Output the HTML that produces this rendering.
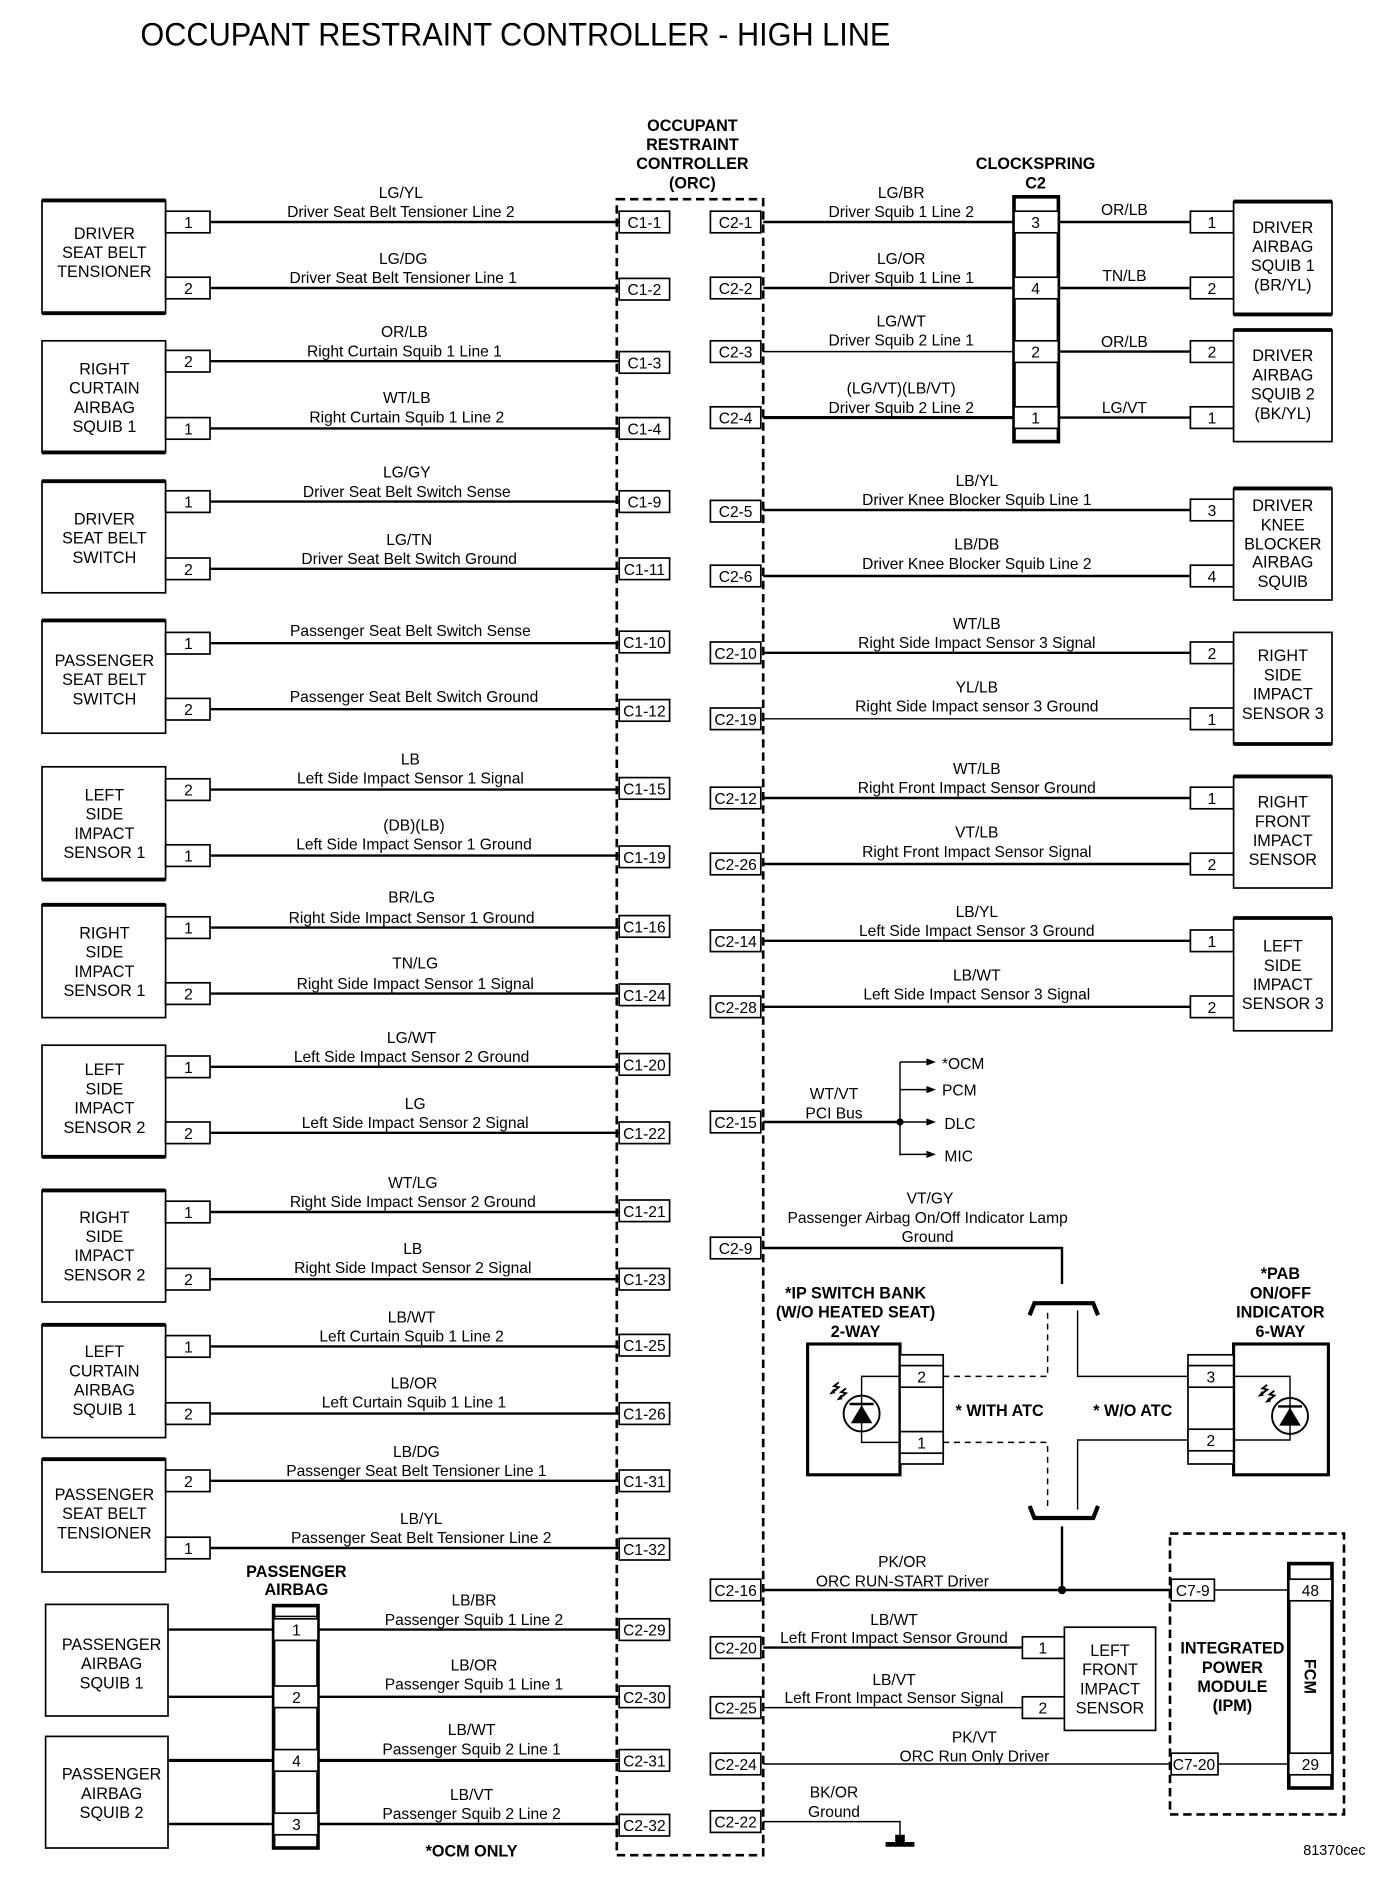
<!DOCTYPE html>
<html><head><meta charset="utf-8"><style>
html,body{margin:0;padding:0;background:#fff}
svg{display:block}
text{font-family:"Liberation Sans",sans-serif;fill:#000}
.t{font-size:13px;text-anchor:middle}
.c{font-size:13.5px;text-anchor:middle}
.b{font-size:13.5px;text-anchor:middle;font-weight:bold}
.p{font-size:13px;text-anchor:middle}
.w{stroke:#000;stroke-width:2;fill:none}
.tw{stroke:#000;stroke-width:1.2;fill:none}
.bx{stroke:#000;stroke-width:1.4;fill:#fff}
.th{stroke:#000;stroke-width:3.2}
.d{stroke:#000;stroke-width:2.2;fill:none;stroke-dasharray:7,4}
.dl{stroke:#000;stroke-width:1.2;fill:none;stroke-dasharray:5,4}
</style></head><body>
<svg width="1392" height="1886" viewBox="0 0 1160 1571.67" xmlns="http://www.w3.org/2000/svg">
<defs>
<g id="bolt"><polyline points="0,0 -4,3 0,4 -5,8" class="tw" style="stroke-width:1.6"/><polygon points="-8,10 -4,5 -3,9" fill="#000"/></g>
</defs>
<text x="117" y="38" style="font-size:27px" textLength="625" lengthAdjust="spacingAndGlyphs">OCCUPANT RESTRAINT CONTROLLER - HIGH LINE</text>

<text class="b" x="577" y="109">OCCUPANT</text>
<text class="b" x="577" y="125">RESTRAINT</text>
<text class="b" x="577" y="141">CONTROLLER</text>
<text class="b" x="577" y="157">(ORC)</text>
<rect x="514" y="166" width="122" height="1380" class="d"/>
<text class="b" x="863" y="141">CLOCKSPRING</text>
<text class="b" x="863" y="157">C2</text>

<g>
<rect x="35" y="167" width="103" height="94" class="bx"/><line x1="35" y1="167" x2="138" y2="167" class="th"/><line x1="35" y1="261" x2="138" y2="261" class="th"/>
<text class="c" x="87" y="199">DRIVER</text><text class="c" x="87" y="215">SEAT BELT</text><text class="c" x="87" y="231">TENSIONER</text>
<rect x="35" y="284" width="103" height="93" class="bx"/><line x1="35" y1="377" x2="138" y2="377" class="th"/>
<text class="c" x="87" y="312">RIGHT</text><text class="c" x="87" y="328">CURTAIN</text><text class="c" x="87" y="344">AIRBAG</text><text class="c" x="87" y="360">SQUIB 1</text>
<rect x="35" y="401" width="103" height="93" class="bx"/><line x1="35" y1="401" x2="138" y2="401" class="th"/>
<text class="c" x="87" y="437">DRIVER</text><text class="c" x="87" y="453">SEAT BELT</text><text class="c" x="87" y="469">SWITCH</text>
<rect x="35" y="517" width="103" height="94" class="bx"/><line x1="35" y1="517" x2="138" y2="517" class="th"/>
<text class="c" x="87" y="555">PASSENGER</text><text class="c" x="87" y="571">SEAT BELT</text><text class="c" x="87" y="587">SWITCH</text>
<rect x="35" y="639" width="103" height="94" class="bx"/><line x1="35" y1="733" x2="138" y2="733" class="th"/>
<text class="c" x="87" y="667">LEFT</text><text class="c" x="87" y="683">SIDE</text><text class="c" x="87" y="699">IMPACT</text><text class="c" x="87" y="715">SENSOR 1</text>
<rect x="35" y="754" width="103" height="94" class="bx"/><line x1="35" y1="754" x2="138" y2="754" class="th"/>
<text class="c" x="87" y="782">RIGHT</text><text class="c" x="87" y="798">SIDE</text><text class="c" x="87" y="814">IMPACT</text><text class="c" x="87" y="830">SENSOR 1</text>
<rect x="35" y="871" width="103" height="93" class="bx"/><line x1="35" y1="964" x2="138" y2="964" class="th"/>
<text class="c" x="87" y="896">LEFT</text><text class="c" x="87" y="912">SIDE</text><text class="c" x="87" y="928">IMPACT</text><text class="c" x="87" y="944">SENSOR 2</text>
<rect x="35" y="992" width="103" height="93" class="bx"/><line x1="35" y1="992" x2="138" y2="992" class="th"/>
<text class="c" x="87" y="1019">RIGHT</text><text class="c" x="87" y="1035">SIDE</text><text class="c" x="87" y="1051">IMPACT</text><text class="c" x="87" y="1067">SENSOR 2</text>
<rect x="35" y="1104" width="103" height="94" class="bx"/><line x1="35" y1="1104" x2="138" y2="1104" class="th"/>
<text class="c" x="87" y="1131">LEFT</text><text class="c" x="87" y="1147">CURTAIN</text><text class="c" x="87" y="1163">AIRBAG</text><text class="c" x="87" y="1179">SQUIB 1</text>
<rect x="35" y="1216" width="103" height="94" class="bx"/><line x1="35" y1="1216" x2="138" y2="1216" class="th"/>
<text class="c" x="87" y="1250">PASSENGER</text><text class="c" x="87" y="1266">SEAT BELT</text><text class="c" x="87" y="1282">TENSIONER</text>
</g>

<g>
<line x1="175" y1="185" x2="516" y2="185" class="w"/><rect x="138" y="176" width="37" height="18" class="bx"/><text class="p" x="157" y="190">1</text><rect x="516" y="176" width="42" height="18" class="bx"/><text class="p" x="537" y="190">C1-1</text>
<text class="t" x="334" y="165">LG/YL</text><text class="t" x="334" y="181">Driver Seat Belt Tensioner Line 2</text>
<line x1="175" y1="240" x2="516" y2="240" class="w"/><rect x="138" y="231" width="37" height="18" class="bx"/><text class="p" x="157" y="245">2</text><rect x="516" y="232" width="42" height="18" class="bx"/><text class="p" x="537" y="246">C1-2</text>
<text class="t" x="336" y="220">LG/DG</text><text class="t" x="336" y="236">Driver Seat Belt Tensioner Line 1</text>

<line x1="175" y1="301" x2="516" y2="301" class="w"/><rect x="138" y="292" width="37" height="18" class="bx"/><text class="p" x="157" y="306">2</text><rect x="516" y="293" width="42" height="18" class="bx"/><text class="p" x="537" y="307">C1-3</text>
<text class="t" x="337" y="281">OR/LB</text><text class="t" x="337" y="297">Right Curtain Squib 1 Line 1</text>
<line x1="175" y1="357" x2="516" y2="357" class="w"/><rect x="138" y="348" width="37" height="18" class="bx"/><text class="p" x="157" y="362">1</text><rect x="516" y="348" width="42" height="18" class="bx"/><text class="p" x="537" y="362">C1-4</text>
<text class="t" x="339" y="336">WT/LB</text><text class="t" x="339" y="352">Right Curtain Squib 1 Line 2</text>

<line x1="175" y1="418" x2="516" y2="418" class="w"/><rect x="138" y="409" width="37" height="18" class="bx"/><text class="p" x="157" y="423">1</text><rect x="516" y="409" width="42" height="18" class="bx"/><text class="p" x="537" y="423">C1-9</text>
<text class="t" x="339" y="398">LG/GY</text><text class="t" x="339" y="414">Driver Seat Belt Switch Sense</text>
<line x1="175" y1="474" x2="516" y2="474" class="w"/><rect x="138" y="465" width="37" height="18" class="bx"/><text class="p" x="157" y="479">2</text><rect x="516" y="465" width="42" height="18" class="bx"/><text class="p" x="537" y="479">C1-11</text>
<text class="t" x="341" y="454">LG/TN</text><text class="t" x="341" y="470">Driver Seat Belt Switch Ground</text>

<line x1="175" y1="536" x2="516" y2="536" class="w"/><rect x="138" y="527" width="37" height="18" class="bx"/><text class="p" x="157" y="541">1</text><rect x="516" y="526" width="42" height="18" class="bx"/><text class="p" x="537" y="540">C1-10</text>
<text class="t" x="342" y="530">Passenger Seat Belt Switch Sense</text>
<line x1="175" y1="591" x2="516" y2="591" class="w"/><rect x="138" y="582" width="37" height="18" class="bx"/><text class="p" x="157" y="596">2</text><rect x="516" y="583" width="42" height="18" class="bx"/><text class="p" x="537" y="597">C1-12</text>
<text class="t" x="345" y="585">Passenger Seat Belt Switch Ground</text>

<line x1="175" y1="658" x2="516" y2="658" class="w"/><rect x="138" y="649" width="37" height="18" class="bx"/><text class="p" x="157" y="663">2</text><rect x="516" y="648" width="42" height="18" class="bx"/><text class="p" x="537" y="662">C1-15</text>
<text class="t" x="342" y="637">LB</text><text class="t" x="342" y="653">Left Side Impact Sensor 1 Signal</text>
<line x1="175" y1="713" x2="516" y2="713" class="w"/><rect x="138" y="704" width="37" height="18" class="bx"/><text class="p" x="157" y="718">1</text><rect x="516" y="705" width="42" height="18" class="bx"/><text class="p" x="537" y="719">C1-19</text>
<text class="t" x="345" y="692">(DB)(LB)</text><text class="t" x="345" y="708">Left Side Impact Sensor 1 Ground</text>

<line x1="175" y1="773" x2="516" y2="773" class="w"/><rect x="138" y="764" width="37" height="18" class="bx"/><text class="p" x="157" y="778">1</text><rect x="516" y="763" width="42" height="18" class="bx"/><text class="p" x="537" y="777">C1-16</text>
<text class="t" x="343" y="752">BR/LG</text><text class="t" x="343" y="769">Right Side Impact Sensor 1 Ground</text>
<line x1="175" y1="828" x2="516" y2="828" class="w"/><rect x="138" y="819" width="37" height="18" class="bx"/><text class="p" x="157" y="833">2</text><rect x="516" y="820" width="42" height="18" class="bx"/><text class="p" x="537" y="834">C1-24</text>
<text class="t" x="346" y="807">TN/LG</text><text class="t" x="346" y="824">Right Side Impact Sensor 1 Signal</text>

<line x1="175" y1="889" x2="516" y2="889" class="w"/><rect x="138" y="880" width="37" height="18" class="bx"/><text class="p" x="157" y="894">1</text><rect x="516" y="878" width="42" height="18" class="bx"/><text class="p" x="537" y="892">C1-20</text>
<text class="t" x="343" y="869">LG/WT</text><text class="t" x="343" y="885">Left Side Impact Sensor 2 Ground</text>
<line x1="175" y1="944" x2="516" y2="944" class="w"/><rect x="138" y="935" width="37" height="18" class="bx"/><text class="p" x="157" y="949">2</text><rect x="516" y="935" width="42" height="18" class="bx"/><text class="p" x="537" y="949">C1-22</text>
<text class="t" x="346" y="924">LG</text><text class="t" x="346" y="940">Left Side Impact Sensor 2 Signal</text>

<line x1="175" y1="1010" x2="516" y2="1010" class="w"/><rect x="138" y="1001" width="37" height="18" class="bx"/><text class="p" x="157" y="1015">1</text><rect x="516" y="1000" width="42" height="18" class="bx"/><text class="p" x="537" y="1014">C1-21</text>
<text class="t" x="344" y="990">WT/LG</text><text class="t" x="344" y="1006">Right Side Impact Sensor 2 Ground</text>
<line x1="175" y1="1066" x2="516" y2="1066" class="w"/><rect x="138" y="1057" width="37" height="18" class="bx"/><text class="p" x="157" y="1071">2</text><rect x="516" y="1057" width="42" height="18" class="bx"/><text class="p" x="537" y="1071">C1-23</text>
<text class="t" x="344" y="1045">LB</text><text class="t" x="344" y="1061">Right Side Impact Sensor 2 Signal</text>

<line x1="175" y1="1122" x2="516" y2="1122" class="w"/><rect x="138" y="1113" width="37" height="18" class="bx"/><text class="p" x="157" y="1127">1</text><rect x="516" y="1112" width="42" height="18" class="bx"/><text class="p" x="537" y="1126">C1-25</text>
<text class="t" x="343" y="1102">LB/WT</text><text class="t" x="343" y="1118">Left Curtain Squib 1 Line 2</text>
<line x1="175" y1="1178" x2="516" y2="1178" class="w"/><rect x="138" y="1169" width="37" height="18" class="bx"/><text class="p" x="157" y="1183">2</text><rect x="516" y="1169" width="42" height="18" class="bx"/><text class="p" x="537" y="1183">C1-26</text>
<text class="t" x="345" y="1157">LB/OR</text><text class="t" x="345" y="1173">Left Curtain Squib 1 Line 1</text>

<line x1="175" y1="1234" x2="516" y2="1234" class="w"/><rect x="138" y="1225" width="37" height="18" class="bx"/><text class="p" x="157" y="1239">2</text><rect x="516" y="1225" width="42" height="18" class="bx"/><text class="p" x="537" y="1239">C1-31</text>
<text class="t" x="347" y="1214">LB/DG</text><text class="t" x="347" y="1230">Passenger Seat Belt Tensioner Line 1</text>
<line x1="175" y1="1290" x2="516" y2="1290" class="w"/><rect x="138" y="1281" width="37" height="18" class="bx"/><text class="p" x="157" y="1295">1</text><rect x="516" y="1282" width="42" height="18" class="bx"/><text class="p" x="537" y="1296">C1-32</text>
<text class="t" x="351" y="1270">LB/YL</text><text class="t" x="351" y="1286">Passenger Seat Belt Tensioner Line 2</text>
</g>

<text class="b" x="247" y="1314">PASSENGER</text><text class="b" x="247" y="1329">AIRBAG</text>
<rect x="38" y="1337" width="102" height="93" class="bx"/>
<text class="c" x="93" y="1375">PASSENGER</text><text class="c" x="93" y="1391">AIRBAG</text><text class="c" x="93" y="1407">SQUIB 1</text>
<rect x="38" y="1447" width="102" height="93" class="bx"/>
<text class="c" x="93" y="1483">PASSENGER</text><text class="c" x="93" y="1499">AIRBAG</text><text class="c" x="93" y="1515">SQUIB 2</text>
<line x1="140" y1="1358" x2="516" y2="1358" class="w"/>
<line x1="140" y1="1414" x2="516" y2="1414" class="w"/>
<line x1="140" y1="1467" x2="516" y2="1467" class="w" style="stroke-width:2.6"/>
<line x1="140" y1="1520" x2="516" y2="1520" class="w"/>
<rect x="228" y="1338" width="37" height="202" class="bx" style="stroke-width:3"/>
<line x1="228" y1="1347" x2="265" y2="1347" class="tw"/>
<rect x="228" y="1349" width="37" height="18" class="bx"/><text class="p" x="247" y="1363">1</text>
<rect x="228" y="1405" width="37" height="18" class="bx"/><text class="p" x="247" y="1419">2</text>
<rect x="228" y="1458" width="37" height="18" class="bx"/><text class="p" x="247" y="1472">4</text>
<rect x="228" y="1511" width="37" height="18" class="bx"/><text class="p" x="247" y="1525">3</text>
<rect x="516" y="1349" width="42" height="18" class="bx"/><text class="p" x="537" y="1363">C2-29</text>
<rect x="516" y="1405" width="42" height="18" class="bx"/><text class="p" x="537" y="1419">C2-30</text>
<rect x="516" y="1458" width="42" height="18" class="bx"/><text class="p" x="537" y="1472">C2-31</text>
<rect x="516" y="1512" width="42" height="18" class="bx"/><text class="p" x="537" y="1526">C2-32</text>
<text class="t" x="395" y="1338">LB/BR</text><text class="t" x="395" y="1354">Passenger Squib 1 Line 2</text>
<text class="t" x="395" y="1392">LB/OR</text><text class="t" x="395" y="1408">Passenger Squib 1 Line 1</text>
<text class="t" x="393" y="1446">LB/WT</text><text class="t" x="393" y="1462">Passenger Squib 2 Line 1</text>
<text class="t" x="393" y="1500">LB/VT</text><text class="t" x="393" y="1516">Passenger Squib 2 Line 2</text>
<text class="b" x="393" y="1547">*OCM ONLY</text>

<line x1="636" y1="185" x2="845" y2="185" class="w"/>
<line x1="636" y1="240" x2="845" y2="240" class="w"/>
<line x1="636" y1="293" x2="845" y2="293" class="tw"/>
<line x1="636" y1="348" x2="845" y2="348" class="w" style="stroke-width:2.6"/>
<rect x="845" y="164" width="37" height="204" class="bx" style="stroke-width:3"/>
<rect x="845" y="176" width="37" height="18" class="bx"/><text class="p" x="863" y="190">3</text>
<rect x="845" y="231" width="37" height="18" class="bx"/><text class="p" x="863" y="245">4</text>
<rect x="845" y="284" width="37" height="18" class="bx"/><text class="p" x="863" y="298">2</text>
<rect x="845" y="339" width="37" height="18" class="bx"/><text class="p" x="863" y="353">1</text>
<line x1="882" y1="185" x2="992" y2="185" class="w"/>
<line x1="882" y1="240" x2="992" y2="240" class="w"/>
<line x1="882" y1="293" x2="992" y2="293" class="w"/>
<line x1="882" y1="348" x2="992" y2="348" class="w"/>
<text class="t" x="937" y="179">OR/LB</text><text class="t" x="937" y="234">TN/LB</text><text class="t" x="937" y="289">OR/LB</text><text class="t" x="937" y="344">LG/VT</text>
<rect x="592" y="176" width="42" height="18" class="bx"/><text class="p" x="613" y="190">C2-1</text>
<rect x="592" y="231" width="42" height="18" class="bx"/><text class="p" x="613" y="245">C2-2</text>
<rect x="592" y="284" width="42" height="18" class="bx"/><text class="p" x="613" y="298">C2-3</text>
<rect x="592" y="339" width="42" height="18" class="bx"/><text class="p" x="613" y="353">C2-4</text>
<text class="t" x="751" y="165">LG/BR</text><text class="t" x="751" y="181">Driver Squib 1 Line 2</text>
<text class="t" x="751" y="220">LG/OR</text><text class="t" x="751" y="236">Driver Squib 1 Line 1</text>
<text class="t" x="751" y="272">LG/WT</text><text class="t" x="751" y="288">Driver Squib 2 Line 1</text>
<text class="t" x="751" y="328">(LG/VT)(LB/VT)</text><text class="t" x="751" y="344">Driver Squib 2 Line 2</text>

<g>
<rect x="992" y="176" width="36" height="18" class="bx"/><text class="p" x="1010" y="190">1</text>
<rect x="992" y="231" width="36" height="18" class="bx"/><text class="p" x="1010" y="245">2</text>
<rect x="1028" y="168" width="82" height="94" class="bx"/><line x1="1028" y1="168" x2="1110" y2="168" class="th"/><line x1="1028" y1="262" x2="1110" y2="262" class="th"/>
<text class="c" x="1069" y="194">DRIVER</text><text class="c" x="1069" y="210">AIRBAG</text><text class="c" x="1069" y="226">SQUIB 1</text><text class="c" x="1069" y="242">(BR/YL)</text>
<rect x="992" y="284" width="36" height="18" class="bx"/><text class="p" x="1010" y="298">2</text>
<rect x="992" y="339" width="36" height="18" class="bx"/><text class="p" x="1010" y="353">1</text>
<rect x="1028" y="275" width="82" height="93" class="bx"/><line x1="1028" y1="275" x2="1110" y2="275" class="th"/>
<text class="c" x="1069" y="301">DRIVER</text><text class="c" x="1069" y="317">AIRBAG</text><text class="c" x="1069" y="333">SQUIB 2</text><text class="c" x="1069" y="349">(BK/YL)</text>

<line x1="636" y1="425" x2="992" y2="425" class="w"/><line x1="636" y1="480" x2="992" y2="480" class="w"/>
<rect x="592" y="417" width="42" height="18" class="bx"/><text class="p" x="613" y="431">C2-5</text>
<rect x="592" y="471" width="42" height="18" class="bx"/><text class="p" x="613" y="485">C2-6</text>
<text class="t" x="814" y="405">LB/YL</text><text class="t" x="814" y="421">Driver Knee Blocker Squib Line 1</text>
<text class="t" x="814" y="458">LB/DB</text><text class="t" x="814" y="474">Driver Knee Blocker Squib Line 2</text>
<rect x="992" y="416" width="36" height="18" class="bx"/><text class="p" x="1010" y="430">3</text>
<rect x="992" y="471" width="36" height="18" class="bx"/><text class="p" x="1010" y="485">4</text>
<rect x="1028" y="407" width="82" height="93" class="bx"/><line x1="1028" y1="407" x2="1110" y2="407" class="th"/>
<text class="c" x="1069" y="426">DRIVER</text><text class="c" x="1069" y="442">KNEE</text><text class="c" x="1069" y="458">BLOCKER</text><text class="c" x="1069" y="473">AIRBAG</text><text class="c" x="1069" y="489">SQUIB</text>

<line x1="636" y1="544" x2="992" y2="544" class="w"/><line x1="636" y1="599" x2="992" y2="599" class="tw"/>
<rect x="592" y="535" width="42" height="18" class="bx"/><text class="p" x="613" y="549">C2-10</text>
<rect x="592" y="590" width="42" height="18" class="bx"/><text class="p" x="613" y="604">C2-19</text>
<text class="t" x="814" y="524">WT/LB</text><text class="t" x="814" y="540">Right Side Impact Sensor 3 Signal</text>
<text class="t" x="814" y="577">YL/LB</text><text class="t" x="814" y="593">Right Side Impact sensor 3 Ground</text>
<rect x="992" y="535" width="36" height="18" class="bx"/><text class="p" x="1010" y="549">2</text>
<rect x="992" y="590" width="36" height="18" class="bx"/><text class="p" x="1010" y="604">1</text>
<rect x="1028" y="527" width="82" height="93" class="bx"/><line x1="1028" y1="620" x2="1110" y2="620" class="th"/>
<text class="c" x="1069" y="551">RIGHT</text><text class="c" x="1069" y="567">SIDE</text><text class="c" x="1069" y="583">IMPACT</text><text class="c" x="1069" y="599">SENSOR 3</text>

<line x1="636" y1="665" x2="992" y2="665" class="w"/><line x1="636" y1="720" x2="992" y2="720" class="w"/>
<rect x="592" y="656" width="42" height="18" class="bx"/><text class="p" x="613" y="670">C2-12</text>
<rect x="592" y="711" width="42" height="18" class="bx"/><text class="p" x="613" y="725">C2-26</text>
<text class="t" x="814" y="645">WT/LB</text><text class="t" x="814" y="661">Right Front Impact Sensor Ground</text>
<text class="t" x="814" y="698">VT/LB</text><text class="t" x="814" y="714">Right Front Impact Sensor Signal</text>
<rect x="992" y="656" width="36" height="18" class="bx"/><text class="p" x="1010" y="670">1</text>
<rect x="992" y="711" width="36" height="18" class="bx"/><text class="p" x="1010" y="725">2</text>
<rect x="1028" y="647" width="82" height="93" class="bx"/><line x1="1028" y1="647" x2="1110" y2="647" class="th"/>
<text class="c" x="1069" y="673">RIGHT</text><text class="c" x="1069" y="689">FRONT</text><text class="c" x="1069" y="705">IMPACT</text><text class="c" x="1069" y="721">SENSOR</text>

<line x1="636" y1="784" x2="992" y2="784" class="w"/><line x1="636" y1="839" x2="992" y2="839" class="w"/>
<rect x="592" y="775" width="42" height="18" class="bx"/><text class="p" x="613" y="789">C2-14</text>
<rect x="592" y="830" width="42" height="18" class="bx"/><text class="p" x="613" y="844">C2-28</text>
<text class="t" x="814" y="764">LB/YL</text><text class="t" x="814" y="780">Left Side Impact Sensor 3 Ground</text>
<text class="t" x="814" y="817">LB/WT</text><text class="t" x="814" y="833">Left Side Impact Sensor 3 Signal</text>
<rect x="992" y="775" width="36" height="18" class="bx"/><text class="p" x="1010" y="789">1</text>
<rect x="992" y="830" width="36" height="18" class="bx"/><text class="p" x="1010" y="844">2</text>
<rect x="1028" y="765" width="82" height="94" class="bx"/><line x1="1028" y1="765" x2="1110" y2="765" class="th"/>
<text class="c" x="1069" y="793">LEFT</text><text class="c" x="1069" y="809">SIDE</text><text class="c" x="1069" y="825">IMPACT</text><text class="c" x="1069" y="841">SENSOR 3</text>
</g>

<rect x="592" y="926" width="42" height="18" class="bx"/><text class="p" x="613" y="940">C2-15</text>
<line x1="636" y1="935" x2="750" y2="935" class="w"/>
<circle cx="750" cy="935" r="3" fill="#000"/>
<line x1="750" y1="885" x2="750" y2="963" class="tw"/>
<line x1="750" y1="885" x2="774" y2="885" class="tw"/><polygon points="780,885 772,882 772,888" fill="#000"/>
<line x1="750" y1="908" x2="774" y2="908" class="tw"/><polygon points="780,908 772,905 772,911" fill="#000"/>
<line x1="750" y1="935" x2="774" y2="935" class="tw"/><polygon points="780,935 772,932 772,938" fill="#000"/>
<line x1="750" y1="962" x2="774" y2="962" class="tw"/><polygon points="780,962 772,959 772,965" fill="#000"/>
<text class="t" x="785" y="891" style="text-anchor:start">*OCM</text>
<text class="t" x="785" y="913" style="text-anchor:start">PCM</text>
<text class="t" x="787" y="941" style="text-anchor:start">DLC</text>
<text class="t" x="787" y="968" style="text-anchor:start">MIC</text>
<text class="t" x="695" y="916">WT/VT</text><text class="t" x="695" y="932">PCI Bus</text>

<rect x="592" y="1031" width="42" height="18" class="bx"/><text class="p" x="613" y="1045">C2-9</text>
<polyline points="636,1040 885,1040 885,1070" class="w"/>
<text class="t" x="775" y="1003">VT/GY</text><text class="t" x="773" y="1019">Passenger Airbag On/Off Indicator Lamp</text><text class="t" x="773" y="1035">Ground</text>
<path d="M858,1096 L862,1086 L911,1086 L915,1096" class="w" style="stroke-width:3.5"/>
<path d="M858,1255 L862,1265 L911,1265 L915,1255" class="w" style="stroke-width:3.5"/>
<polyline points="786,1147 873,1147 873,1092" class="dl"/>
<polyline points="786,1202 873,1202 873,1258" class="dl"/>
<polyline points="898,1092 898,1147 990,1147" class="tw"/>
<polyline points="898,1258 898,1200 990,1200" class="tw"/>
<text class="b" x="833" y="1180">* WITH ATC</text>
<text class="b" x="944" y="1180">* W/O ATC</text>

<text class="b" x="713" y="1082">*IP SWITCH BANK</text><text class="b" x="713" y="1098">(W/O HEATED SEAT)</text><text class="b" x="713" y="1114">2-WAY</text>
<rect x="673" y="1120" width="77" height="109" class="bx" style="stroke-width:2.6"/>
<rect x="750" y="1129" width="36" height="91" class="bx"/>
<rect x="750" y="1138" width="36" height="18" class="bx"/><text class="p" x="768" y="1152">2</text>
<rect x="750" y="1193" width="36" height="18" class="bx"/><text class="p" x="768" y="1207">1</text>
<polyline points="750,1147 718,1147 718,1202 750,1202" class="tw"/>
<circle cx="718" cy="1178" r="15" class="bx" style="stroke-width:1.6"/>
<line x1="718" y1="1163" x2="718" y2="1193" class="tw"/>
<polygon points="709,1186 727,1186 718,1171" fill="#000"/><line x1="708" y1="1170" x2="728" y2="1170" class="w"/>
<use href="#bolt" x="699" y="1152"/><use href="#bolt" x="705" y="1157"/>

<text class="b" x="1067" y="1066">*PAB</text><text class="b" x="1067" y="1082">ON/OFF</text><text class="b" x="1067" y="1098">INDICATOR</text><text class="b" x="1067" y="1114">6-WAY</text>
<rect x="1028" y="1120" width="79" height="109" class="bx" style="stroke-width:2.6"/>
<rect x="990" y="1129" width="38" height="91" class="bx"/>
<rect x="990" y="1138" width="38" height="18" class="bx"/><text class="p" x="1009" y="1152">3</text>
<rect x="990" y="1191" width="38" height="18" class="bx"/><text class="p" x="1009" y="1205">2</text>
<polyline points="1028,1147 1075,1147 1075,1200 1028,1200" class="tw"/>
<circle cx="1075" cy="1180" r="15" class="bx" style="stroke-width:1.6"/>
<line x1="1075" y1="1165" x2="1075" y2="1195" class="tw"/>
<polygon points="1066,1188 1084,1188 1075,1173" fill="#000"/><line x1="1065" y1="1172" x2="1085" y2="1172" class="w"/>
<use href="#bolt" x="1056" y="1154"/><use href="#bolt" x="1062" y="1159"/>

<line x1="885" y1="1272" x2="885" y2="1325" class="w"/>
<line x1="636" y1="1325" x2="976" y2="1325" class="w"/>
<circle cx="885" cy="1325" r="3.5" fill="#000"/>
<rect x="592" y="1316" width="42" height="18" class="bx"/><text class="p" x="613" y="1330">C2-16</text>
<text class="t" x="752" y="1306">PK/OR</text><text class="t" x="752" y="1322">ORC RUN-START Driver</text>

<rect x="975" y="1278" width="145" height="234" class="d"/>
<rect x="976" y="1316" width="36" height="18" class="bx"/><text class="p" x="994" y="1330">C7-9</text>
<line x1="1012" y1="1325" x2="1074" y2="1325" class="tw"/>
<rect x="1074" y="1303" width="36" height="187" class="bx" style="stroke-width:3"/>
<rect x="1074" y="1316" width="36" height="18" class="bx"/><text class="p" x="1092" y="1330">48</text>
<rect x="1074" y="1461" width="36" height="18" class="bx"/><text class="p" x="1092" y="1475">29</text>
<text class="b" transform="translate(1087,1397) rotate(90)">FCM</text>
<text class="b" x="1027" y="1378">INTEGRATED</text><text class="b" x="1027" y="1394">POWER</text><text class="b" x="1027" y="1410">MODULE</text><text class="b" x="1027" y="1426">(IPM)</text>

<line x1="636" y1="1373" x2="852" y2="1373" class="w"/>
<line x1="636" y1="1423" x2="852" y2="1423" class="tw"/>
<rect x="592" y="1364" width="42" height="18" class="bx"/><text class="p" x="613" y="1378">C2-20</text>
<rect x="592" y="1414" width="42" height="18" class="bx"/><text class="p" x="613" y="1428">C2-25</text>
<text class="t" x="745" y="1354">LB/WT</text><text class="t" x="745" y="1369">Left Front Impact Sensor Ground</text>
<text class="t" x="745" y="1404">LB/VT</text><text class="t" x="745" y="1419">Left Front Impact Sensor Signal</text>
<rect x="852" y="1364" width="35" height="18" class="bx"/><text class="p" x="869" y="1378">1</text>
<rect x="852" y="1414" width="35" height="18" class="bx"/><text class="p" x="869" y="1428">2</text>
<rect x="887" y="1356" width="76" height="86" class="bx"/>
<text class="c" x="925" y="1380">LEFT</text><text class="c" x="925" y="1396">FRONT</text><text class="c" x="925" y="1412">IMPACT</text><text class="c" x="925" y="1428">SENSOR</text>

<line x1="636" y1="1470" x2="976" y2="1470" class="tw"/>
<rect x="592" y="1461" width="42" height="18" class="bx"/><text class="p" x="613" y="1475">C2-24</text>
<rect x="976" y="1461" width="39" height="18" class="bx"/><text class="p" x="995" y="1475">C7-20</text>
<line x1="1015" y1="1470" x2="1074" y2="1470" class="tw"/>
<text class="t" x="812" y="1452">PK/VT</text><text class="t" x="812" y="1468">ORC Run Only Driver</text>

<rect x="592" y="1509" width="42" height="18" class="bx"/><text class="p" x="613" y="1523">C2-22</text>
<polyline points="636,1518 750,1518 750,1535" class="tw"/>
<line x1="738" y1="1537" x2="762" y2="1537" stroke="#000" stroke-width="4"/>
<rect x="746" y="1529" width="8" height="8" fill="#000"/>
<text class="t" x="695" y="1498">BK/OR</text><text class="t" x="695" y="1514">Ground</text>
<text class="t" x="1112" y="1546" style="font-size:12px">81370cec</text>
</svg>
</body></html>
